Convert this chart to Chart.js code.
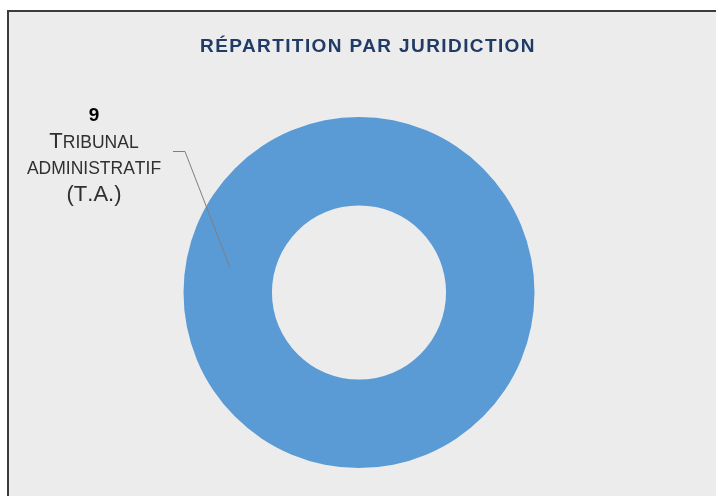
<!DOCTYPE html>
<html>
<head>
<meta charset="utf-8">
<script src="https://cdn.jsdelivr.net/npm/chart.js@4/dist/chart.umd.min.js"></script>
<style>
  html, body { margin: 0; padding: 0; background: #ffffff; overflow: hidden; }
  canvas { display: block; }
</style>
</head>
<body>
<canvas id="c" width="716" height="496"></canvas>
<script>
const chartTitle = "RÉPARTITION PAR JURIDICTION";
const categories = ["Tribunal administratif (T.A.)"];
const values = [9];
const sliceColors = ["#5b9bd5"];

const FONT = "'Liberation Sans', Arial, sans-serif";

const framePlugin = {
  id: 'frame',
  beforeDraw(chart) {
    const ctx = chart.ctx;
    ctx.save();
    ctx.fillStyle = '#ffffff';
    ctx.fillRect(0, 0, chart.width, chart.height);
    ctx.fillStyle = '#ececec';
    ctx.fillRect(8, 11, chart.width - 8, chart.height - 11);
    ctx.strokeStyle = '#3c3c3c';
    ctx.lineWidth = 2;
    ctx.beginPath();
    ctx.moveTo(8, chart.height);
    ctx.lineTo(8, 11);
    ctx.lineTo(chart.width, 11);
    ctx.stroke();
    // title
    ctx.fillStyle = '#1f3b66';
    ctx.font = "bold 19px " + FONT;
    ctx.letterSpacing = '1.4px';
    ctx.textAlign = 'center';
    ctx.textBaseline = 'alphabetic';
    ctx.fillText(chartTitle, 368, 52);
    ctx.restore();
  }
};

function drawSmallCaps(ctx, text, cx, baseline, bigSize, smallSize, color) {
  const parts = [];
  for (const ch of text) {
    const isLower = ch !== ch.toUpperCase();
    parts.push({ t: ch.toUpperCase(), size: isLower ? smallSize : bigSize });
  }
  let total = 0;
  for (const p of parts) {
    ctx.font = p.size + "px " + FONT;
    p.w = ctx.measureText(p.t).width;
    total += p.w;
  }
  let x = cx - total / 2;
  ctx.fillStyle = color;
  ctx.textAlign = 'left';
  ctx.textBaseline = 'alphabetic';
  for (const p of parts) {
    ctx.font = p.size + "px " + FONT;
    ctx.fillText(p.t, x, baseline);
    x += p.w;
  }
}

const labelPlugin = {
  id: 'sliceLabel',
  afterDatasetsDraw(chart) {
    const ctx = chart.ctx;
    const meta = chart.getDatasetMeta(0);
    meta.data.forEach((arc, i) => {
      const r = (arc.innerRadius + arc.outerRadius) / 2;
      const ang = 190.8 * Math.PI / 180;
      const ax = arc.x + r * Math.cos(ang);
      const ay = arc.y + r * Math.sin(ang);
      ctx.save();
      ctx.strokeStyle = '#7f7f7f';
      ctx.lineWidth = 1;
      ctx.beginPath();
      ctx.moveTo(ax, ay);
      ctx.lineTo(185, 151.5);
      ctx.lineTo(173, 151.5);
      ctx.stroke();
      const cx = 94;
      ctx.fillStyle = '#000000';
      ctx.font = "bold 19px " + FONT;
      ctx.textAlign = 'center';
      ctx.textBaseline = 'alphabetic';
      ctx.fillText(String(values[i]), cx, 121);
      const words = chart.data.labels[i].split(' ');
      const baselines = [148, 174, 201];
      words.forEach((w, k) => {
        drawSmallCaps(ctx, w, cx, baselines[k], 22, 17.5, '#303030');
      });
      ctx.restore();
    });
  }
};

new Chart(document.getElementById('c'), {
  type: 'doughnut',
  data: {
    labels: categories,
    datasets: [{
      data: values,
      backgroundColor: sliceColors,
      borderWidth: 0,
      hoverOffset: 0
    }]
  },
  options: {
    responsive: false,
    devicePixelRatio: 1,
    animation: false,
    cutout: '49.6%',
    layout: { padding: { left: 183.5, right: 181.5, top: 117, bottom: 28 } },
    plugins: {
      legend: { display: false },
      title: { display: false },
      tooltip: { enabled: false }
    },
    events: []
  },
  plugins: [framePlugin, labelPlugin]
});
</script>
</body>
</html>
